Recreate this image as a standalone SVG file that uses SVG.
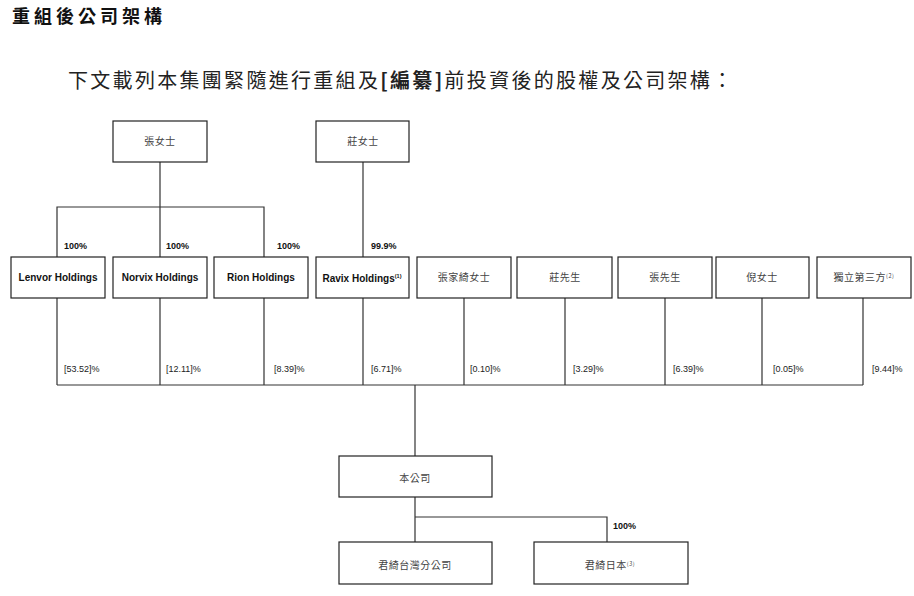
<svg xmlns="http://www.w3.org/2000/svg" width="914" height="596" viewBox="0 0 914 596">
<style>
.bg{fill:#fff}
.box{fill:#fff;stroke:#222;stroke-width:1.2}
.ln{fill:none;stroke:#333;stroke-width:1.2}
.en{font-family:"Liberation Sans",Arial,sans-serif;font-size:10px;font-weight:bold;fill:#111;text-anchor:middle}
.zh{font-family:"Noto Sans CJK TC","Noto Sans CJK SC",sans-serif;font-size:10px;fill:#444;text-anchor:middle;letter-spacing:0.5px}
.pc{font-family:"Liberation Sans",Arial,sans-serif;font-size:9px;font-weight:bold;fill:#111}
.pr{font-family:"Liberation Sans",Arial,sans-serif;font-size:9px;fill:#222}
.sup{font-size:5.5px}
.title{font-family:"Noto Sans CJK TC","Noto Sans CJK SC",sans-serif;font-size:18px;font-weight:bold;fill:#111;letter-spacing:4px}
.sub{font-family:"Noto Sans CJK TC","Noto Sans CJK SC",sans-serif;font-size:20px;fill:#222;letter-spacing:2.3px}
</style>
<rect class="bg" x="0" y="0" width="914" height="596"/>
<text class="title" x="12" y="23">重組後公司架構</text>
<text class="sub" x="68" y="88">下文載列本集團緊隨進行重組及<tspan font-weight="bold">[編纂]</tspan>前投資後的股權及公司架構：</text>

<g id="connectors">
<path class="ln" d="M160,162 V207 M57,257 V207 H264 V257 M160,207 V257"/>
<path class="ln" d="M363,162 V257"/>
<path class="ln" d="M57,298 V385 M160,298 V385 M264,298 V385 M363,298 V385 M464,298 V385 M565,298 V385 M665,298 V385 M762,298 V385 M863,298 V385 M57,385 H863"/>
<path class="ln" d="M415,385 V456"/>
<path class="ln" d="M415,497 V542 M415,517 H607 V542"/>
<text class="pc" x="64" y="249">100%</text>
<text class="pc" x="166" y="249">100%</text>
<text class="pc" x="277" y="249">100%</text>
<text class="pc" x="371" y="249">99.9%</text>
<text class="pr" x="64" y="372">[53.52]%</text>
<text class="pr" x="166" y="372">[12.11]%</text>
<text class="pr" x="274" y="372">[8.39]%</text>
<text class="pr" x="371" y="372">[6.71]%</text>
<text class="pr" x="470" y="372">[0.10]%</text>
<text class="pr" x="573" y="372">[3.29]%</text>
<text class="pr" x="673" y="372">[6.39]%</text>
<text class="pr" x="773" y="372">[0.05]%</text>
<text class="pr" x="872" y="372">[9.44]%</text>
<text class="pc" x="613" y="529">100%</text>
</g>

<g id="n-zhang-ms"><rect class="box" x="113" y="121" width="94" height="41"/><text class="zh" x="160" y="145">張女士</text></g>
<g id="n-zhuang-ms"><rect class="box" x="316" y="121" width="93" height="41"/><text class="zh" x="363" y="145">莊女士</text></g>

<g id="n-lenvor"><rect class="box" x="11" y="257" width="94" height="41"/><text class="en" x="58" y="281">Lenvor Holdings</text></g>
<g id="n-norvix"><rect class="box" x="113" y="257" width="94" height="41"/><text class="en" x="160" y="281">Norvix Holdings</text></g>
<g id="n-rion"><rect class="box" x="214" y="257" width="94" height="41"/><text class="en" x="261" y="281">Rion Holdings</text></g>
<g id="n-ravix"><rect class="box" x="316" y="257" width="93" height="41"/><text class="en" x="362" y="282">Ravix Holdings<tspan class="sup" dy="-4">(1)</tspan></text></g>
<g id="n-zhangjiaqi"><rect class="box" x="417" y="257" width="94" height="41"/><text class="zh" x="464" y="281">張家綺女士</text></g>
<g id="n-zhuang-mr"><rect class="box" x="517" y="257" width="95" height="41"/><text class="zh" x="565" y="281">莊先生</text></g>
<g id="n-zhang-mr"><rect class="box" x="618" y="257" width="94" height="41"/><text class="zh" x="665" y="281">張先生</text></g>
<g id="n-ni-ms"><rect class="box" x="716" y="257" width="93" height="41"/><text class="zh" x="762" y="281">倪女士</text></g>
<g id="n-independent"><rect class="box" x="817" y="257" width="94" height="41"/><text class="zh" x="864" y="281">獨立第三方<tspan class="sup" dy="-3">(2)</tspan></text></g>

<g id="n-company"><rect class="box" x="339" y="456" width="153" height="41"/><text class="zh" x="415" y="482">本公司</text></g>
<g id="n-taiwan"><rect class="box" x="339" y="542" width="153" height="42"/><text class="zh" x="415" y="569">君綺台灣分公司</text></g>
<g id="n-japan"><rect class="box" x="534" y="542" width="154" height="42"/><text class="zh" x="610" y="569">君綺日本<tspan class="sup" dy="-3">(3)</tspan></text></g>
</svg>
